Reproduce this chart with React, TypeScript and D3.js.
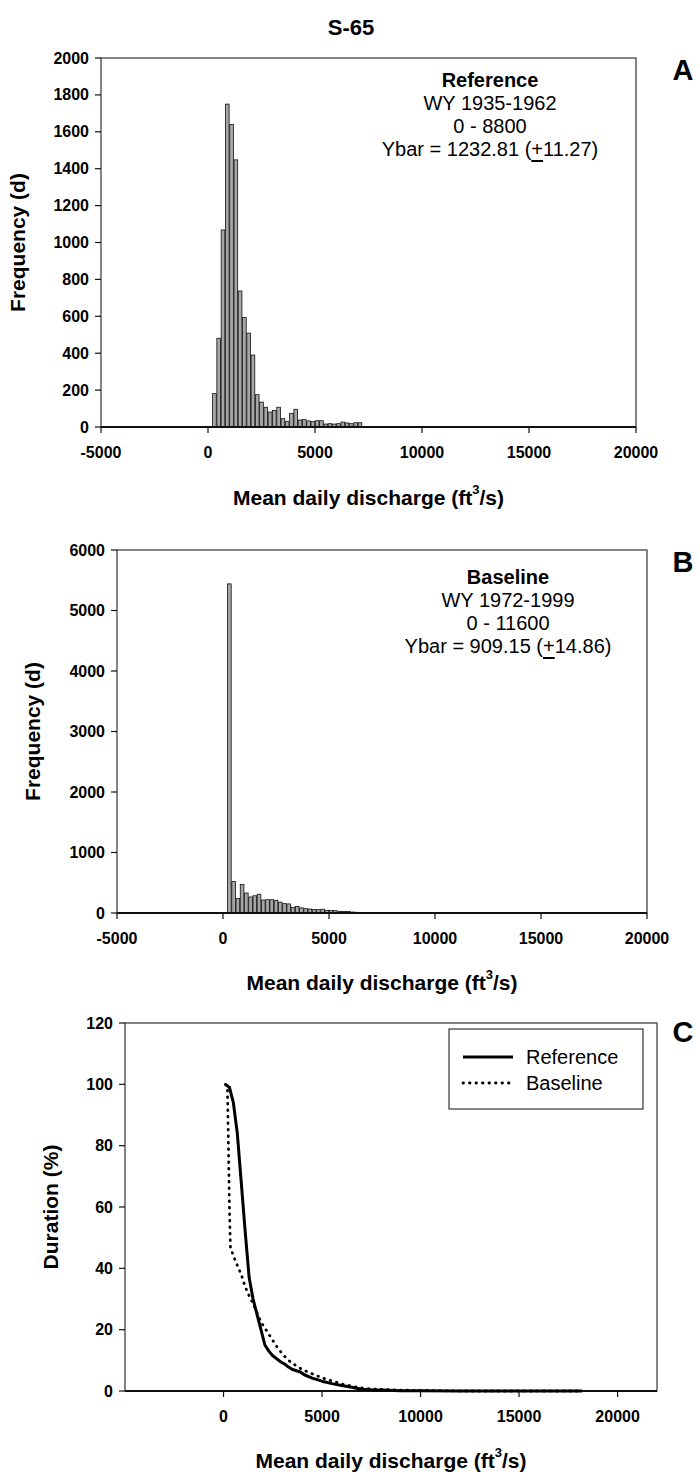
import * as d3 from 'd3';

const FONT = '"Liberation Sans", Arial, Helvetica, sans-serif';

// histogram bins are 200 ft3/s wide, index 0 = 0-200
const binWidth = 200;
const refFreq = [
  0, 181, 481, 1068, 1750, 1640, 1448, 737, 593, 509,
  390, 175, 135, 107, 81, 90, 107, 45, 31, 74,
  96, 38, 40, 33, 29, 34, 34, 16, 18, 16,
  18, 27, 22, 18, 23, 23, 0, 0, 0, 0,
  0, 2, 0, 1,
];
const baseFreq = [
  0, 5440, 520, 240, 470, 330, 265, 285, 310, 215,
  220, 220, 210, 180, 155, 150, 95, 110, 85, 72,
  66, 56, 55, 62, 45, 40, 38, 28, 24, 27,
  16, 12, 10, 6, 4, 3, 2, 2, 1, 1,
  0, 3, 3, 2, 0, 0, 0, 0, 0, 0,
  0, 0, 0, 0, 0, 0, 0, 1,
];

// flow duration curves
const refQ = [100, 300, 500, 700, 900, 1100, 1300, 1500, 1700, 1900, 2100, 2300, 2500, 2700, 2900, 3100, 3300, 3500, 3700, 3900, 4100, 4500, 5000, 5500, 6000, 6500, 7000, 7500, 8000, 9000, 10000, 12000, 15000, 18200];
const refPct = [100, 99, 94, 84, 68, 52, 37, 30, 25, 20, 15, 13, 11.5, 10.5, 9.5, 8.8, 7.8, 7, 6.6, 6.2, 5.3, 4.2, 3.2, 2.4, 1.8, 1.2, 0.6, 0.4, 0.3, 0.1, 0.05, 0, 0, 0];
const baseQ = [100, 200, 250, 300, 350, 500, 700, 900, 1100, 1300, 1500, 1700, 1900, 2100, 2300, 2500, 2700, 2900, 3100, 3300, 3500, 4000, 4500, 5000, 5500, 6000, 6500, 7000, 7500, 8000, 9000, 10000, 11000, 12000, 15000, 18200];
const basePct = [100, 98, 80, 60, 47, 44, 41, 38, 34, 31, 28.5, 25.5, 22.5, 20.5, 18.5, 16.5, 14.5, 12.8, 11.3, 10, 9, 7, 5.6, 4.3, 3.3, 2.3, 1.6, 1.0, 0.7, 0.5, 0.3, 0.2, 0.1, 0, 0, 0];

const histXTicks = [-5000, 0, 5000, 10000, 15000, 20000];
const refYTicks = [0, 200, 400, 600, 800, 1000, 1200, 1400, 1600, 1800, 2000];
const baseYTicks = [0, 1000, 2000, 3000, 4000, 5000, 6000];
const durXTicks = [0, 5000, 10000, 15000, 20000];
const durYTicks = [0, 20, 40, 60, 80, 100, 120];

const refNotes = ['Reference', 'WY 1935-1962', '0 - 8800', ['Ybar = 1232.81 (', '11.27)']];
const baseNotes = ['Baseline', 'WY 1972-1999', '0 - 11600', ['Ybar = 909.15 (', '14.86)']];

const XTitle = ({ x, y }) => (
  <text x={x} y={y} textAnchor="middle" dominantBaseline="central" fontSize={21} fontWeight="bold">
    Mean daily discharge (ft<tspan dy={-8} fontSize={13}>3</tspan><tspan dy={8}>/s)</tspan>
  </text>
);

const YTitle = ({ x, y, label }) => (
  <text transform={`translate(${x},${y}) rotate(-90)`} textAnchor="middle" dominantBaseline="central" fontSize={21} fontWeight="bold">
    {label}
  </text>
);

function Histogram({ counts, yMax, yTicks, box, notes, notesX, notesY, letter, letterY }) {
  const x = d3.scaleLinear().domain([-5000, 20000]).range([box.left, box.right]);
  const y = d3.scaleLinear().domain([0, yMax]).range([box.bottom, box.top]);

  return (
    <g>
      {counts.map((c, i) => {
        if (!c) return null;
        const x0 = x(i * binWidth) + 0.3;
        const x1 = x((i + 1) * binWidth) - 0.3;
        return (
          <rect key={i} x={x0} y={y(c)} width={x1 - x0} height={Math.max(0.4, y(0) - y(c))}
            fill="#a6a6a6" stroke="#111" strokeWidth={0.8} />
        );
      })}
      <rect x={box.left} y={box.top} width={box.right - box.left} height={box.bottom - box.top}
        fill="none" stroke="#333" strokeWidth={1.2} />
      <line x1={box.left} x2={box.right} y1={box.bottom} y2={box.bottom} stroke="#111" strokeWidth={1.8} />
      {histXTicks.map(t => (
        <g key={t}>
          <line x1={x(t)} x2={x(t)} y1={box.bottom} y2={box.bottom + 6} stroke="#111" strokeWidth={1.2} />
          <text x={x(t)} y={box.bottom + 25} textAnchor="middle" dominantBaseline="central" fontSize={16} fontWeight="bold">{t}</text>
        </g>
      ))}
      {yTicks.map(t => (
        <g key={t}>
          <line x1={box.left - 6} x2={box.left} y1={y(t)} y2={y(t)} stroke="#111" strokeWidth={1.2} />
          <text x={box.left - 12} y={y(t)} textAnchor="end" dominantBaseline="central" fontSize={16} fontWeight="bold">{t}</text>
        </g>
      ))}
      {notes.map((n, i) => (
        <text key={i} x={notesX} y={notesY + i * 23} textAnchor="middle" dominantBaseline="central"
          fontSize={20} fontWeight={i === 0 ? 'bold' : 'normal'}>
          {Array.isArray(n)
            ? <>{n[0]}<tspan style={{ textDecoration: 'underline' }}>+</tspan>{n[1]}</>
            : n}
        </text>
      ))}
      <text x={683} y={letterY} textAnchor="middle" dominantBaseline="central" fontSize={29} fontWeight="bold">{letter}</text>
    </g>
  );
}

function Duration({ box }) {
  const x = d3.scaleLinear().domain([-5000, 22000]).range([box.left, box.right]);
  const y = d3.scaleLinear().domain([0, 120]).range([box.bottom, box.top]);
  const line = d3.line().x(d => x(d[0])).y(d => y(d[1]));
  const refPts = refQ.map((q, i) => [q, refPct[i]]);
  const basePts = baseQ.map((q, i) => [q, basePct[i]]);

  return (
    <g>
      <rect x={box.left} y={box.top} width={box.right - box.left} height={box.bottom - box.top}
        fill="none" stroke="#333" strokeWidth={1.2} />
      <line x1={box.left} x2={box.right} y1={box.bottom} y2={box.bottom} stroke="#111" strokeWidth={1.8} />
      <path d={line(basePts)} fill="none" stroke="#000" strokeWidth={2.8} strokeDasharray="0.5 6" strokeLinecap="round" />
      <path d={line(refPts)} fill="none" stroke="#000" strokeWidth={3} strokeLinejoin="round" />
      {durXTicks.map(t => (
        <g key={t}>
          <line x1={x(t)} x2={x(t)} y1={box.bottom} y2={box.bottom + 6} stroke="#111" strokeWidth={1.2} />
          <text x={x(t)} y={box.bottom + 25} textAnchor="middle" dominantBaseline="central" fontSize={16} fontWeight="bold">{t}</text>
        </g>
      ))}
      {durYTicks.map(t => (
        <g key={t}>
          <line x1={box.left - 6} x2={box.left} y1={y(t)} y2={y(t)} stroke="#111" strokeWidth={1.2} />
          <text x={box.left - 12} y={y(t)} textAnchor="end" dominantBaseline="central" fontSize={16} fontWeight="bold">{t}</text>
        </g>
      ))}
      {/* legend */}
      <rect x={449} y={1029} width={194} height={80} fill="#fff" stroke="#333" strokeWidth={1.2} />
      <line x1={463} x2={513} y1={1057} y2={1057} stroke="#000" strokeWidth={3} />
      <text x={526} y={1057} dominantBaseline="central" fontSize={20}>Reference</text>
      <line x1={463} x2={513} y1={1083} y2={1083} stroke="#000" strokeWidth={2.8} strokeDasharray="0.5 6" strokeLinecap="round" />
      <text x={526} y={1083} dominantBaseline="central" fontSize={20}>Baseline</text>
      <text x={683} y={1032} textAnchor="middle" dominantBaseline="central" fontSize={29} fontWeight="bold">C</text>
    </g>
  );
}

export default function App() {
  const boxA = { left: 101, right: 636, top: 58, bottom: 427 };
  const boxB = { left: 117, right: 647, top: 550, bottom: 913 };
  const boxC = { left: 125, right: 657, top: 1023, bottom: 1391 };

  return (
    <svg width={700} height={1475} style={{ position: 'absolute', left: 0, top: 0, background: '#fff' }}
      fontFamily={FONT} fill="#000">
      <rect x={0} y={0} width={700} height={1475} fill="#fff" />
      <text x={351} y={27} textAnchor="middle" dominantBaseline="central" fontSize={22} fontWeight="bold">S-65</text>

      <Histogram counts={refFreq} yMax={2000} yTicks={refYTicks} box={boxA}
        notes={refNotes} notesX={490} notesY={80} letter="A" letterY={70} />
      <XTitle x={(boxA.left + boxA.right) / 2} y={497} />
      <YTitle x={17} y={(boxA.top + boxA.bottom) / 2} label="Frequency (d)" />

      <Histogram counts={baseFreq} yMax={6000} yTicks={baseYTicks} box={boxB}
        notes={baseNotes} notesX={508} notesY={577} letter="B" letterY={562} />
      <XTitle x={(boxB.left + boxB.right) / 2} y={982} />
      <YTitle x={32} y={(boxB.top + boxB.bottom) / 2} label="Frequency (d)" />

      <Duration box={boxC} />
      <XTitle x={(boxC.left + boxC.right) / 2} y={1460} />
      <YTitle x={50} y={(boxC.top + boxC.bottom) / 2} label="Duration (%)" />
    </svg>
  );
}
